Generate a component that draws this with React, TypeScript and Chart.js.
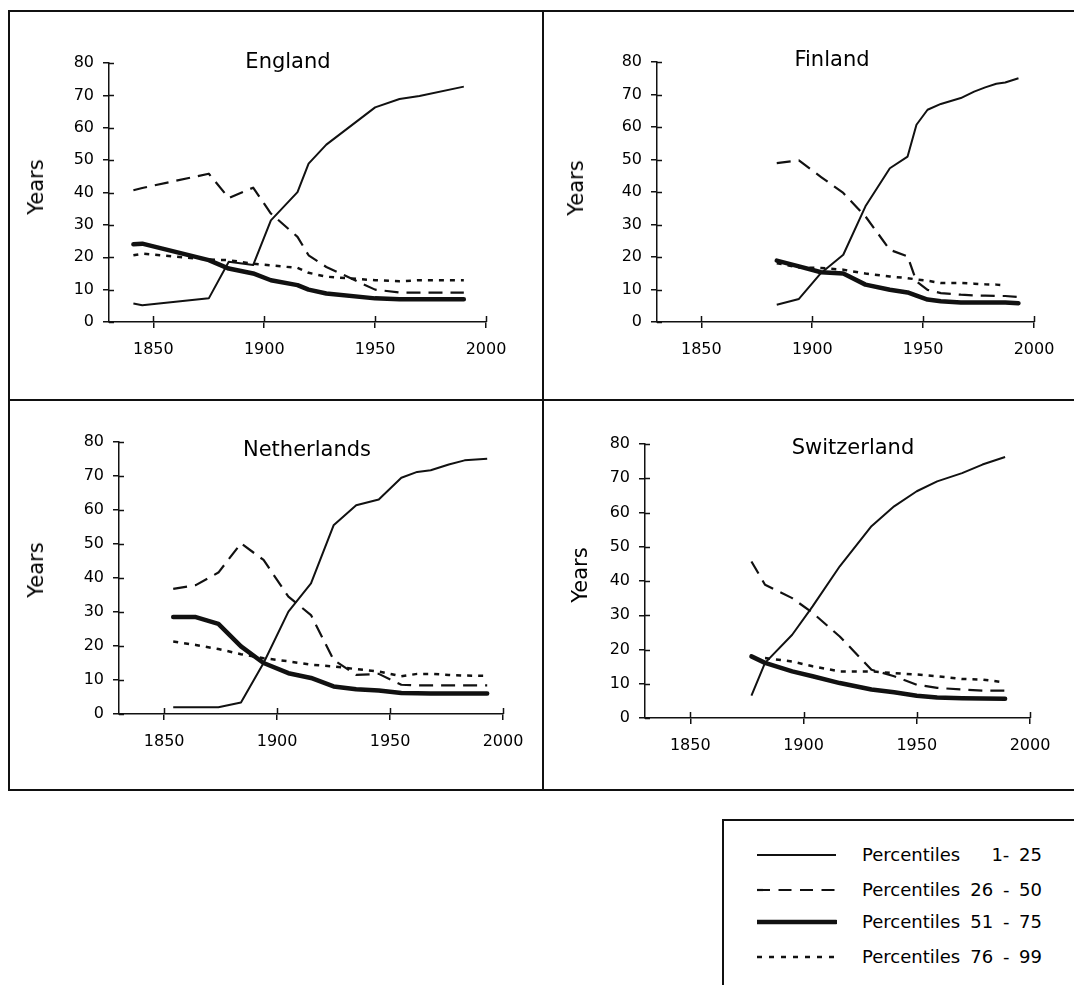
import React, { useEffect, useRef } from "react";
import { Chart, registerables } from "chart.js";

Chart.register(...registerables);

// ---------------- DATA ----------------
const xTickValues = [1850, 1900, 1950, 2000];
const yTickValues = [0, 10, 20, 30, 40, 50, 60, 70, 80];
const seriesLabels = ["Percentiles 1- 25", "Percentiles 26 - 50", "Percentiles 51 - 75", "Percentiles 76 - 99"];
const legendNames = ["Percentiles", "Percentiles", "Percentiles", "Percentiles"];
const legendRanges = ["1- 25", "26 - 50", "51 - 75", "76 - 99"];

const englandYears = [1841, 1845, 1875, 1884, 1895, 1903, 1915, 1920, 1928, 1950, 1961, 1970, 1990];
const englandP1 = [5.7, 5.2, 7.3, 18.6, 17.6, 31.4, 40.1, 48.9, 54.8, 66.3, 68.9, 69.8, 72.7];
const englandP2 = [40.7, 41.4, 45.8, 38.3, 41.5, 33.5, 26.3, 20.6, 17.0, 10.0, 9.1, 9.1, 9.1];
const englandP3 = [24.0, 24.2, 19.1, 16.5, 15.0, 12.9, 11.4, 10.0, 8.8, 7.3, 7.0, 7.0, 7.0];
const englandP4 = [20.6, 21.1, 19.3, 19.1, 18.0, 17.5, 16.7, 15.2, 14.0, 12.9, 12.6, 12.9, 12.9];

const finlandYears = [1884, 1894, 1904, 1914, 1924, 1935, 1943, 1947, 1952, 1958, 1967, 1973, 1978, 1983, 1987, 1993];
const finlandP1 = [5.3, 7.1, 15.1, 20.7, 35.6, 47.3, 50.9, 60.7, 65.3, 67.1, 68.9, 70.9, 72.2, 73.3, 73.7, 75.0];
const finlandP2 = [48.9, 49.7, 44.6, 39.7, 32.5, 22.2, 20.2, 12.5, 9.9, 8.9, 8.4, 8.2, 8.1, 8.0, 8.0, 7.7];
const finlandP3 = [18.9, 17.1, 15.3, 14.9, 11.5, 9.9, 9.1, 8.1, 6.9, 6.4, 6.0, 6.0, 6.0, 6.0, 6.0, 5.8];
const finlandP4 = [18.1, 16.8, 16.6, 16.1, 14.9, 14.0, 13.5, 13.1, 12.7, 12.0, 12.0, 11.8, 11.6, 11.5, 11.3, null];

const netherlandsYears = [1854, 1864, 1874, 1884, 1894, 1905, 1915, 1925, 1935, 1945, 1955, 1962, 1968, 1976, 1983, 1993];
const netherlandsP1 = [2.0, 2.0, 2.0, 3.4, 15.0, 30.1, 38.4, 55.5, 61.4, 63.1, 69.5, 71.2, 71.7, 73.4, 74.6, 75.1];
const netherlandsP2 = [36.8, 37.9, 41.6, 50.2, 45.3, 34.5, 29.1, 15.9, 11.5, 11.8, 8.6, 8.4, 8.4, 8.4, 8.4, 8.4];
const netherlandsP3 = [28.5, 28.5, 26.5, 19.9, 15.0, 12.0, 10.6, 8.1, 7.3, 6.9, 6.2, 6.1, 6.0, 6.0, 6.0, 6.0];
const netherlandsP4 = [21.3, 20.3, 19.1, 17.6, 16.4, 15.5, 14.5, 14.0, 13.2, 12.5, 11.1, 11.8, 11.8, 11.5, 11.3, 11.2];

const switzerlandYears = [1877, 1883, 1895, 1904, 1916, 1930, 1940, 1950, 1959, 1970, 1979, 1989];
const switzerlandP1 = [6.5, 16.1, 24.3, 32.6, 44.3, 56.0, 61.8, 66.2, 69.1, 71.5, 74.0, 76.2];
const switzerlandP2 = [45.7, 38.9, 35.0, 30.7, 23.8, 14.1, 12.2, 9.7, 8.8, 8.3, 8.0, 8.0];
const switzerlandP3 = [18.0, 16.1, 13.6, 12.2, 10.2, 8.3, 7.5, 6.5, 6.0, 5.8, 5.7, 5.6];
const switzerlandP4 = [null, 17.5, 16.5, 15.1, 13.6, 13.6, 13.1, 12.7, 12.2, 11.4, 11.2, 10.4];

// ---------------- STYLE / LAYOUT ----------------
const FONT = '"DejaVu Sans", "Liberation Sans", sans-serif';
const INK = "#111";
const lineStyles = [
  { width: 2, dash: [] as number[], cap: "butt" },
  { width: 2.2, dash: [14, 8], cap: "butt" },
  { width: 4.5, dash: [] as number[], cap: "round" },
  { width: 2.5, dash: [5, 6], cap: "butt" },
];

const Y_AXIS_W = 40;
const X_AXIS_H = 40;

type PanelDef = {
  title: string;
  years: number[];
  series: (number | null)[][];
  box: { left: number; top: number; width: number; height: number };
  area: { left: number; top: number; right: number; bottom: number };
  titlePos: { x: number; y: number };
  yearsPos: { x: number; y: number };
};

const panels: PanelDef[] = [
  {
    title: "England",
    years: englandYears,
    series: [englandP1, englandP2, englandP3, englandP4],
    box: { left: 10, top: 12, width: 530, height: 386 },
    area: { left: 109, top: 63, right: 486, bottom: 322 },
    titlePos: { x: 288, y: 61 },
    yearsPos: { x: 36, y: 187 },
  },
  {
    title: "Finland",
    years: finlandYears,
    series: [finlandP1, finlandP2, finlandP3, finlandP4],
    box: { left: 545, top: 12, width: 529, height: 386 },
    area: { left: 657, top: 62, right: 1034, bottom: 322 },
    titlePos: { x: 832, y: 59 },
    yearsPos: { x: 576, y: 188 },
  },
  {
    title: "Netherlands",
    years: netherlandsYears,
    series: [netherlandsP1, netherlandsP2, netherlandsP3, netherlandsP4],
    box: { left: 10, top: 402, width: 530, height: 386 },
    area: { left: 119, top: 442, right: 503, bottom: 714 },
    titlePos: { x: 307, y: 449 },
    yearsPos: { x: 36, y: 570 },
  },
  {
    title: "Switzerland",
    years: switzerlandYears,
    series: [switzerlandP1, switzerlandP2, switzerlandP3, switzerlandP4],
    box: { left: 545, top: 402, width: 529, height: 386 },
    area: { left: 645, top: 444, right: 1030, bottom: 718 },
    titlePos: { x: 853, y: 447 },
    yearsPos: { x: 580, y: 575 },
  },
];

const innerTicks = {
  id: "innerTicks",
  afterDraw(chart: any) {
    const { ctx, chartArea } = chart;
    const x = chart.scales.x;
    const y = chart.scales.y;
    ctx.save();
    ctx.strokeStyle = INK;
    ctx.lineWidth = 1.5;
    ctx.beginPath();
    x.ticks.forEach((t: any) => {
      const px = Math.round(x.getPixelForValue(t.value)) + 0.5;
      ctx.moveTo(px, chartArea.bottom);
      ctx.lineTo(px, chartArea.bottom - 6);
    });
    y.ticks.forEach((t: any) => {
      const py = Math.round(y.getPixelForValue(t.value)) + 0.5;
      ctx.moveTo(chartArea.left, py);
      ctx.lineTo(chartArea.left + 5, py);
    });
    ctx.stroke();
    ctx.restore();
  },
};

function Panel({ def }: { def: PanelDef }) {
  const ref = useRef<HTMLCanvasElement | null>(null);
  useEffect(() => {
    if (!ref.current) return;
    const { box, area } = def;
    const chart = new Chart(ref.current, {
      type: "line",
      data: {
        datasets: def.series.map((vals, i) => ({
          label: seriesLabels[i],
          data: def.years.map((yr, j) => ({ x: yr, y: vals[j] })),
          borderColor: INK,
          borderWidth: lineStyles[i].width,
          borderDash: lineStyles[i].dash,
          borderCapStyle: lineStyles[i].cap as any,
          borderJoinStyle: "round",
          pointRadius: 0,
          tension: 0,
          fill: false,
          spanGaps: false,
        })),
      },
      options: {
        animation: false,
        responsive: false,
        maintainAspectRatio: false,
        layout: {
          padding: {
            left: area.left - box.left - Y_AXIS_W,
            top: area.top - box.top,
            right: box.left + box.width - area.right,
            bottom: box.top + box.height - area.bottom - X_AXIS_H,
          },
        },
        plugins: { legend: { display: false }, tooltip: { enabled: false }, title: { display: false } },
        scales: {
          x: {
            type: "linear",
            min: 1830,
            max: 2000,
            afterBuildTicks: (a: any) => {
              a.ticks = xTickValues.map((v) => ({ value: v }));
            },
            afterFit: (a: any) => {
              a.height = X_AXIS_H;
            },
            grid: { drawOnChartArea: false, drawTicks: true, tickLength: 6, color: INK, lineWidth: 1.5 },
            border: { color: INK, width: 1.5 },
            ticks: {
              color: "#000",
              font: { family: FONT, size: 16 },
              padding: 12,
              maxRotation: 0,
              autoSkip: false,
              callback: (v: any) => String(v),
            },
          },
          y: {
            type: "linear",
            min: 0,
            max: 80,
            afterBuildTicks: (a: any) => {
              a.ticks = yTickValues.map((v) => ({ value: v }));
            },
            afterFit: (a: any) => {
              a.width = Y_AXIS_W;
            },
            grid: { drawOnChartArea: false, drawTicks: true, tickLength: 6, color: INK, lineWidth: 1.5 },
            border: { color: INK, width: 1.5 },
            ticks: {
              color: "#000",
              font: { family: FONT, size: 16 },
              padding: 9,
              autoSkip: false,
              callback: (v: any) => String(v),
            },
          },
        },
      },
      plugins: [innerTicks],
    } as any);
    return () => chart.destroy();
  }, [def]);

  return (
    <>
      <canvas
        ref={ref}
        width={def.box.width}
        height={def.box.height}
        style={{
          position: "absolute",
          left: def.box.left,
          top: def.box.top,
          width: def.box.width,
          height: def.box.height,
        }}
      />
      <div
        style={{
          position: "absolute",
          left: def.titlePos.x,
          top: def.titlePos.y,
          transform: "translate(-50%, -50%)",
          fontFamily: FONT,
          fontSize: 21,
          color: "#000",
          whiteSpace: "nowrap",
          lineHeight: "26px",
        }}
      >
        {def.title}
      </div>
      <div
        style={{
          position: "absolute",
          left: def.yearsPos.x,
          top: def.yearsPos.y,
          transform: "translate(-50%, -50%) rotate(-90deg)",
          fontFamily: FONT,
          fontSize: 21,
          color: "#000",
          whiteSpace: "nowrap",
          lineHeight: "26px",
        }}
      >
        Years
      </div>
    </>
  );
}

const legendRowsY = [855, 890, 922, 957];

function LegendSample({ i }: { i: number }) {
  const s = lineStyles[i];
  const dash = i === 1 ? "13 8.5" : i === 3 ? "5 7" : undefined;
  return (
    <svg width={80} height={12} style={{ position: "absolute", left: 757, top: legendRowsY[i] - 6 }}>
      <line
        x1={0}
        y1={6}
        x2={79}
        y2={6}
        stroke={INK}
        strokeWidth={s.width}
        strokeDasharray={dash}
        strokeLinecap={i === 2 ? "round" : "butt"}
      />
    </svg>
  );
}

export default function App() {
  return (
    <div
      style={{
        position: "absolute",
        left: 0,
        top: 0,
        width: 1074,
        height: 985,
        overflow: "hidden",
        background: "#fff",
      }}
    >
      {panels.map((p) => (
        <Panel key={p.title} def={p} />
      ))}
      {/* frame */}
      <div style={{ position: "absolute", left: 8, top: 10, width: 1100, height: 781, border: `2px solid ${INK}`, boxSizing: "border-box" }} />
      <div style={{ position: "absolute", left: 542, top: 10, width: 2, height: 781, background: INK }} />
      <div style={{ position: "absolute", left: 8, top: 399, width: 1100, height: 2, background: INK }} />
      {/* legend */}
      <div style={{ position: "absolute", left: 722, top: 819, width: 400, height: 300, border: `2px solid ${INK}`, boxSizing: "border-box" }} />
      {legendRanges.map((r, i) => (
        <React.Fragment key={r}>
          <LegendSample i={i} />
          <div
            style={{
              position: "absolute",
              left: 862,
              top: legendRowsY[i] - 11,
              height: 22,
              lineHeight: "22px",
              fontFamily: FONT,
              fontSize: 18,
              color: "#000",
              whiteSpace: "nowrap",
            }}
          >
            {legendNames[i]}
          </div>
          <div
            style={{
              position: "absolute",
              left: 942,
              width: 100,
              top: legendRowsY[i] - 11,
              height: 22,
              lineHeight: "22px",
              fontFamily: FONT,
              fontSize: 18,
              color: "#000",
              textAlign: "right",
              whiteSpace: "nowrap",
              wordSpacing: 4,
            }}
          >
            {r}
          </div>
        </React.Fragment>
      ))}
    </div>
  );
}
